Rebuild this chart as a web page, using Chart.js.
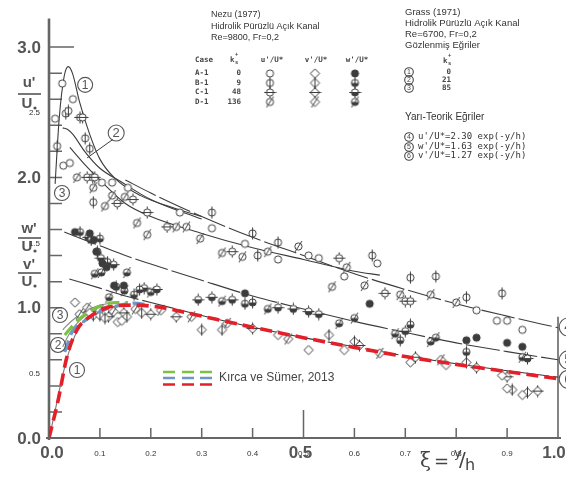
<!DOCTYPE html>
<html><head><meta charset="utf-8">
<script src="https://cdn.jsdelivr.net/npm/chart.js@4.4.1/dist/chart.umd.min.js"></script>
<style>html,body{margin:0;padding:0;background:#fff;overflow:hidden}canvas{display:block}</style>
</head><body>
<canvas id="c" width="566" height="477"></canvas>
<script>
// ---------- tick labels ----------
const yMajorLabels = ['0.0','1.0','2.0','3.0'];
const yMinorLabels = ['0.5','1.5','2.5'];
const xMajorLabels = ['0.0','0.5','1.0'];
const xMinorLabels = ['0.1','0.2','0.3','0.4','0.5','0.6','0.7','0.8','0.9'];
const yTickVals = [0.2,0.4,0.6,0.8,1.0,1.2,1.4,1.6,1.8,2.0,2.2,2.4,2.6,2.8,3.0];
const xTickVals = [0.1,0.2,0.3,0.4,0.5,0.6,0.7,0.8,0.9];

// ---------- Nezu (1977) data: u'/U*, v'/U*, w'/U* for cases A-1..D-1 ----------
const uA = [[0.012,2.45],[0.026,2.72],[0.047,2.60],[0.028,2.09],[0.041,2.11],[0.104,1.96],[0.124,1.96],[0.155,1.92],[0.257,1.73],[0.32,1.61],[0.385,1.49],[0.45,1.37],[0.51,1.40],[0.53,1.38],[0.58,1.24],[0.645,1.34],[0.84,0.98],[0.88,0.90],[0.90,0.90],[0.93,0.83]];
const uB = [[0.016,2.24],[0.033,2.49],[0.038,2.51],[0.071,2.30],[0.08,2.22],[0.087,1.81],[0.32,1.73],[0.40,1.57],[0.45,1.50],[0.635,1.40],[0.71,1.23],[0.76,1.24],[0.82,1.08],[0.89,1.11],[0.41,1.40]];
const uC = [[0.061,2.46],[0.066,2.46],[0.075,2.0],[0.086,2.0],[0.09,2.0],[0.134,1.80],[0.165,1.83],[0.193,1.73],[0.232,1.62],[0.36,1.43],[0.57,1.38],[0.66,1.11],[0.70,1.05],[0.71,1.05]];
const uD = [[0.055,2.0],[0.087,1.92],[0.11,1.78],[0.124,1.86],[0.149,1.85],[0.173,1.65],[0.193,1.56],[0.25,1.62],[0.27,1.62],[0.297,1.53],[0.34,1.42],[0.38,1.39],[0.43,1.43],[0.49,1.47],[0.585,1.31],[0.556,1.16],[0.62,1.17],[0.75,1.10],[0.80,1.04],[0.69,1.10]];
const wA = [[0.051,1.58],[0.08,1.57],[0.088,1.52],[0.093,1.43],[0.105,1.34],[0.113,1.31],[0.128,1.17],[0.147,1.17],[0.385,1.11],[0.63,1.03],[0.82,0.75],[0.84,0.77],[0.90,0.73],[0.93,0.70]];
const wB = [[0.061,1.58],[0.083,1.52],[0.10,1.53],[0.095,1.43],[0.115,1.35],[0.167,1.10],[0.178,1.14],[0.385,1.03],[0.40,1.04],[0.69,0.75],[0.71,0.87],[0.82,0.66]];
const wC = [[0.077,1.54],[0.102,1.38],[0.127,1.33],[0.132,1.16],[0.187,1.15],[0.212,1.14],[0.293,1.06],[0.32,1.08],[0.36,1.06],[0.45,1.0],[0.48,0.99],[0.51,0.97],[0.53,0.95],[0.70,0.82],[0.94,0.61]];
const wD = [[0.09,1.26],[0.103,1.27],[0.153,1.27],[0.148,1.13],[0.118,1.08],[0.2,1.12],[0.34,1.05],[0.43,0.99],[0.57,0.88],[0.60,0.92],[0.68,0.80],[0.75,0.74],[0.76,0.77],[0.93,0.62]];
const vA = [[0.051,1.04],[0.08,0.96],[0.135,0.89],[0.143,0.90],[0.45,0.79],[0.51,0.675],[0.58,0.675],[0.71,0.58],[0.78,0.56],[0.89,0.48],[0.90,0.38],[0.93,0.33]];
const vB = [[0.087,0.94],[0.1,0.94],[0.11,0.92],[0.153,0.93],[0.182,0.96],[0.30,0.83],[0.34,0.83],[0.55,0.79],[0.60,0.74],[0.82,0.58],[0.91,0.37],[0.94,0.35]];
const vC = [[0.117,0.93],[0.147,0.96],[0.2,0.95],[0.25,0.93],[0.40,0.84],[0.61,0.71],[0.72,0.62],[0.84,0.54],[0.90,0.47],[0.96,0.36]];
const vD = [[0.06,0.95],[0.075,1.0],[0.1,0.98],[0.127,0.97],[0.17,0.99],[0.22,0.98],[0.28,0.93],[0.35,0.88],[0.47,0.76],[0.65,0.65],[0.77,0.6]];

// ---------- Grass (1971) observed curves ----------
const grass1 = [[0.012,1.95],[0.02,2.45],[0.03,2.78],[0.038,2.85],[0.046,2.80],[0.06,2.58],[0.08,2.33],[0.1,2.14],[0.13,1.99],[0.18,1.86],[0.25,1.76],[0.3,1.70]];
const grass2 = [[0.027,2.38],[0.036,2.37],[0.047,2.33],[0.07,2.20],[0.1,2.07],[0.14,1.97],[0.2,1.83],[0.3,1.68]];
const grass3 = [[0.041,2.23],[0.07,2.10],[0.1,1.98],[0.15,1.80],[0.2,1.70],[0.3,1.57],[0.4,1.46],[0.5,1.37],[0.6,1.28],[0.65,1.25]];
const wall1 = [[0,0],[0.01,0.17],[0.02,0.36],[0.03,0.53],[0.04,0.67],[0.055,0.82],[0.07,0.91],[0.09,0.97],[0.11,1.0],[0.13,1.01]];
const wall2 = [[0.027,0.70],[0.04,0.80],[0.06,0.90],[0.09,0.98],[0.12,1.02]];
const wall3 = [[0.027,0.83],[0.045,0.90],[0.07,0.97],[0.1,1.02],[0.13,1.04]];

// ---------- semi-theoretical curves ----------
const curve4 = [[0.15,1.98],[0.2,1.88],[0.3,1.70],[0.4,1.54],[0.5,1.40],[0.6,1.26],[0.7,1.14],[0.8,1.03],[0.9,0.935],[1.0,0.846]];
const curve5 = [[0.03,1.58],[0.05,1.55],[0.1,1.475],[0.15,1.40],[0.2,1.335],[0.3,1.21],[0.4,1.09],[0.5,0.99],[0.6,0.895],[0.7,0.81],[0.8,0.73],[0.9,0.663],[1.0,0.60]];
const curve6 = [[0.04,1.22],[0.1,1.15],[0.15,1.09],[0.2,1.04],[0.3,0.94],[0.4,0.85],[0.5,0.77],[0.6,0.70],[0.7,0.63],[0.8,0.57],[0.9,0.516],[1.0,0.467]];

// ---------- Kırca ve Sümer, 2013 ----------
const ksGreen = [[0.031,0.79],[0.051,0.88],[0.075,0.96],[0.106,1.02],[0.133,1.04],[0.155,1.04]];
const ksBlue  = [[0.031,0.66],[0.045,0.81],[0.067,0.89],[0.1,0.97],[0.14,1.02],[0.165,1.035],[0.2,1.02]];
const ksRed   = [[0,0],[0.018,0.29],[0.035,0.62],[0.055,0.83],[0.08,0.93],[0.114,1.0],[0.165,1.02],[0.224,1.0],[0.283,0.95],[0.4,0.85],[0.5,0.77],[0.6,0.695],[0.7,0.625],[0.8,0.565],[0.9,0.51],[1.0,0.455]];

// circled labels (data coordinates)
const circled = [
  {n:'1',x:0.071,y:2.71,r:7.5},{n:'2',x:0.132,y:2.34,r:8},{n:'3',x:0.0255,y:1.88,r:7.5},
  {n:'3',x:0.0216,y:0.944,r:7.5},{n:'2',x:0.0177,y:0.714,r:7.5},{n:'1',x:0.055,y:0.522,r:7.5},
  {n:'4',x:1.02,y:0.852,r:9},{n:'5',x:1.02,y:0.599,r:9},{n:'6',x:1.02,y:0.45,r:9}
];

const INK = '#3c3c3c';
const toXY = a => a.map(p => ({x:p[0], y:p[1]}));

function makeSym(shape, mark, fill){
  const S=13, m=6.5, c=document.createElement('canvas'); c.width=S; c.height=S;
  const g=c.getContext('2d'); g.lineWidth=1; g.strokeStyle=INK;
  const path=()=>{g.beginPath(); if(shape==='d'){g.moveTo(m,m-4.6);g.lineTo(m+4.6,m);g.lineTo(m,m+4.6);g.lineTo(m-4.6,m);g.closePath();} else g.arc(m,m,3.6,0,Math.PI*2);};
  path(); g.fillStyle='#fff'; g.fill();
  if(fill==='full'){g.fillStyle=INK; g.fill();}
  else if(fill==='half'){g.save(); g.clip(); g.fillStyle=INK; g.fillRect(0,m,S,S); g.restore(); path();}
  g.stroke();
  g.beginPath();
  if(mark==='v'){g.moveTo(m,0.5);g.lineTo(m,S-0.5);}
  if(mark==='x'){g.moveTo(0.5,m);g.lineTo(S-0.5,m);g.moveTo(m,m-6);g.lineTo(m,m-3.6);g.moveTo(m,m+3.6);g.lineTo(m,m+6);}
  if(mark==='s'){g.moveTo(m-3.5,m+5.5);g.lineTo(m+3.5,m-5.5);}
  g.stroke();
  return c;
}
const SYM = {
  uA:makeSym('c','',''), uB:makeSym('c','v',''), uC:makeSym('c','x',''), uD:makeSym('c','s',''),
  vA:makeSym('d','',''), vB:makeSym('d','v',''), vC:makeSym('d','x',''), vD:makeSym('d','s',''),
  wA:makeSym('c','','full'), wB:makeSym('c','v','half'), wC:makeSym('c','x','half'), wD:makeSym('c','s','half')
};

function pts(data, key){ return {type:'scatter', data:toXY(data), pointStyle:SYM[key], showLine:false, order:5}; }
function line(data, opts){ return Object.assign({type:'scatter', data:toXY(data), showLine:true, pointRadius:0, borderColor:INK, borderWidth:1.1, tension:0.4, cubicInterpolationMode:'monotone', order:10, fill:false}, opts||{}); }

const deco = {
  id:'deco',
  beforeDatasetsDraw(ch){
    const ctx=ch.ctx, X=v=>ch.scales.x.getPixelForValue(v), Y=v=>ch.scales.y.getPixelForValue(v);
    ctx.save(); ctx.strokeStyle='#666'; ctx.lineCap='butt';
    ctx.lineWidth=2.6; ctx.beginPath(); ctx.moveTo(X(0),Y(3.22)); ctx.lineTo(X(0),Y(0)+2); ctx.stroke();
    ctx.lineWidth=2; ctx.beginPath(); ctx.moveTo(X(0)-3,Y(0)); ctx.lineTo(X(1)+3,Y(0)); ctx.stroke();
    ctx.lineWidth=1.6; ctx.beginPath(); ctx.moveTo(X(1),Y(0)); ctx.lineTo(X(1),Y(0.93)); ctx.stroke();
    ctx.lineWidth=1.5; ctx.beginPath();
    yTickVals.forEach(v=>{const L=(v===3.0)?25:13; ctx.moveTo(X(0),Y(v)); ctx.lineTo(X(0)+L,Y(v));});
    xTickVals.forEach(v=>{const L=(v===0.5)?28:10; ctx.moveTo(X(v),Y(0)); ctx.lineTo(X(v),Y(0)-L);});
    ctx.stroke();
    ctx.restore();
  },
  afterDraw(ch){
    const ctx=ch.ctx, X=v=>ch.scales.x.getPixelForValue(v), Y=v=>ch.scales.y.getPixelForValue(v);
    ctx.save();
    // y tick labels
    ctx.fillStyle='#555'; ctx.textBaseline='middle'; ctx.textAlign='right';
    ctx.font='bold 17px "Liberation Sans", Arial, sans-serif';
    yMajorLabels.forEach(s=>ctx.fillText(s, 41, Y(parseFloat(s))+1));
    // x tick labels
    ctx.font='8px "Liberation Sans", Arial, sans-serif'; ctx.fillStyle='#333'; ctx.textAlign='center';
    xMinorLabels.forEach(s=>ctx.fillText(s, X(parseFloat(s)), Y(0)+16));
    ctx.font='bold 17px "Liberation Sans", Arial, sans-serif'; ctx.fillStyle='#555';
    xMajorLabels.forEach(s=>{const v=parseFloat(s); ctx.fillText(s, X(v)+(v===0?3:(v===1?-4:-3)), Y(0)+15);});
    // xi = y/h
    ctx.fillStyle='#444'; ctx.textAlign='left';
    ctx.font='20px "DejaVu Serif", serif'; ctx.fillText('ξ', 420, 462);
    ctx.font='18px "DejaVu Sans", sans-serif'; ctx.fillText('=', 434, 462);
    ctx.font='13px "DejaVu Sans", sans-serif'; ctx.fillText('y', 454, 454);
    ctx.font='20px "DejaVu Sans", sans-serif'; ctx.fillText('/', 459, 461);
    ctx.font='16px "DejaVu Sans", sans-serif'; ctx.fillText('h', 465, 466);
    // y-axis fraction labels
    const frac=(top,yTop,yBar,yBot)=>{
      ctx.font='bold 15px "Liberation Sans", Arial, sans-serif'; ctx.fillStyle='#555'; ctx.textAlign='center';
      ctx.fillText(top, 29, yTop); ctx.fillText('U', 27, yBot);
      ctx.beginPath(); ctx.arc(35, yBot+4, 1.6, 0, Math.PI*2); ctx.fill();
      ctx.strokeStyle='#555'; ctx.lineWidth=1.6; ctx.beginPath(); ctx.moveTo(18,yBar); ctx.lineTo(41,yBar); ctx.stroke();
    };
    frac("u'",83,94,104); frac("w'",229,238,247); frac("v'",265,273,282);
    ctx.font='8px "Liberation Sans", Arial, sans-serif'; ctx.fillStyle='#333'; ctx.textAlign='right'; ctx.textBaseline='middle';
    yMinorLabels.forEach(s=>ctx.fillText(s, 40, Y(parseFloat(s))+1));
    // circled numbers
    const circ=(cx,cy,r,n,fs,col)=>{
      ctx.strokeStyle=col; ctx.lineWidth=1.1; ctx.beginPath(); ctx.arc(cx,cy,r,0,Math.PI*2); ctx.stroke();
      ctx.fillStyle=col; ctx.font=fs+'px "Liberation Sans", Arial, sans-serif'; ctx.textAlign='center'; ctx.textBaseline='middle';
      ctx.fillText(n,cx,cy+0.5);
    };
    circled.forEach(c=>circ(X(c.x),Y(c.y),c.r,c.n,Math.round(c.r*1.6),'#555'));
    ctx.strokeStyle=INK; ctx.lineWidth=1; ctx.beginPath(); ctx.moveTo(X(0.125),Y(2.29)); ctx.lineTo(X(0.075),Y(2.15)); ctx.stroke();
    // Nezu block
    ctx.fillStyle='#333'; ctx.textAlign='left'; ctx.textBaseline='middle';
    ctx.font='9px "Liberation Sans", Arial, sans-serif';
    ctx.fillText('Nezu (1977)',211,15); ctx.fillText('Hidrolik Pürüzlü Açık Kanal',211,27); ctx.fillText('Re=9800, Fr=0,2',211,38);
    const F8='bold 7.5px "DejaVu Sans Mono", monospace';
    ctx.font=F8; ctx.fillStyle='#444';
    ctx.fillText('Case',195,60); ctx.fillText('k',230,60);
    ctx.font='bold 5.5px "DejaVu Sans Mono", monospace'; ctx.fillText('+',235,55); ctx.fillText('s',235,63);
    ctx.font=F8; ctx.textAlign='center';
    ctx.fillText("u'/U*",272,60); ctx.fillText("v'/U*",316,60); ctx.fillText("w'/U*",357,60);
    const rows=[['A-1','0',73.5,'A'],['B-1','9',83,'B'],['C-1','48',92.5,'C'],['D-1','136',102,'D']];
    rows.forEach(r=>{
      ctx.font=F8; ctx.fillStyle='#444';
      ctx.textAlign='left'; ctx.fillText(r[0],195,r[2]); ctx.textAlign='right'; ctx.fillText(r[1],241,r[2]);
      ['u','v','w'].forEach((k,i)=>{const im=SYM[k+r[3]]; const cx=[270,315,355][i]; ctx.drawImage(im,cx-6.5,r[2]-6.5);});
    });
    // Grass block
    ctx.fillStyle='#333'; ctx.textAlign='left'; ctx.font='9.5px "Liberation Sans", Arial, sans-serif';
    ctx.fillText('Grass (1971)',405,12); ctx.fillText('Hidrolik Pürüzlü Açık Kanal',405,23);
    ctx.fillText('Re=6700, Fr=0,2',405,34); ctx.fillText('Gözlenmiş Eğriler',405,45);
    ctx.font=F8; ctx.fillStyle='#444';
    ctx.fillText('k',443,61); ctx.font='bold 5.5px "DejaVu Sans Mono", monospace'; ctx.fillText('+',448,56); ctx.fillText('s',448,64);
    [['1','0',72],['2','21',80],['3','85',88]].forEach(r=>{ctx.font=F8; ctx.textAlign='right'; ctx.fillStyle='#444'; ctx.fillText(r[1],451,r[2]); circ(409,r[2],4.3,r[0],7,'#444');});
    ctx.fillStyle='#333'; ctx.textAlign='left'; ctx.font='10px "Liberation Sans", Arial, sans-serif';
    ctx.fillText('Yarı-Teorik Eğriler',405,117);
    [['4',"u'/U*=2.30 exp(-y/h)",137],['5',"w'/U*=1.63 exp(-y/h)",147],['6',"v'/U*=1.27 exp(-y/h)",156]].forEach(r=>{
      circ(409,r[2],4.3,r[0],7,'#444');
      ctx.fillStyle='#333'; ctx.textAlign='left'; ctx.textBaseline='middle'; ctx.font='9px "DejaVu Sans Mono", monospace';
      ctx.fillText(r[1],418,r[2]);
    });
    // Kırca legend
    const leg=[['#7cc242',372],['#6b98c8',378],['#e3202a',384.5]];
    leg.forEach(l=>{ctx.strokeStyle=l[0]; ctx.lineWidth=2.7; ctx.beginPath(); [163,182,200].forEach(x0=>{ctx.moveTo(x0,l[1]);ctx.lineTo(x0+12,l[1]);}); ctx.stroke();});
    ctx.fillStyle='#444'; ctx.font='12px "Liberation Sans", Arial, sans-serif'; ctx.textAlign='left'; ctx.textBaseline='middle';
    ctx.fillText('Kırca ve Sümer, 2013',219,378);
    ctx.restore();
  }
};

new Chart(document.getElementById('c'), {
  type:'scatter',
  data:{datasets:[
    line(ksRed,{borderColor:'#e3202a',borderWidth:3.6,borderDash:[12,6],order:0,tension:0.3}),
    line(ksBlue,{borderColor:'#6b98c8',borderWidth:3.2,borderDash:[12,6],order:1}),
    line(ksGreen,{borderColor:'#7cc242',borderWidth:3.2,borderDash:[12,6],order:2}),
    pts(uA,'uA'),pts(uB,'uB'),pts(uC,'uC'),pts(uD,'uD'),
    pts(wA,'wA'),pts(wB,'wB'),pts(wC,'wC'),pts(wD,'wD'),
    pts(vA,'vA'),pts(vB,'vB'),pts(vC,'vC'),pts(vD,'vD'),
    line(curve4,{borderDash:[34,4],tension:0.2}),
    line(curve5,{borderDash:[34,4],tension:0.2}),
    line(curve6,{borderDash:[34,4],tension:0.2}),
    line(grass1),line(grass2),line(grass3),
    line(wall1,{borderColor:'#777'}),line(wall2,{borderColor:'#888'}),line(wall3,{borderColor:'#888'})
  ]},
  options:{
    responsive:false, animation:false, devicePixelRatio:1, events:[],
    layout:{padding:{left:49,right:8,top:21,bottom:39}},
    scales:{
      x:{type:'linear',min:0,max:1,display:false},
      y:{type:'linear',min:0,max:3.2,display:false}
    },
    plugins:{legend:{display:false},tooltip:{enabled:false}}
  },
  plugins:[deco]
});
</script>
</body></html>
